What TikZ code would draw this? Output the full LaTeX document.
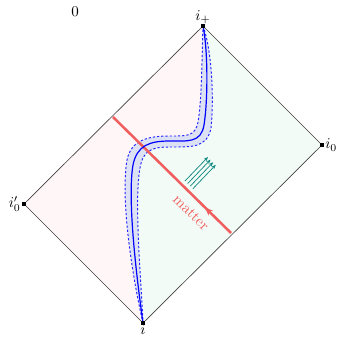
\documentclass[tikz,border=0pt]{standalone}
\usetikzlibrary{arrows.meta,decorations.markings}
\definecolor{pinkbg}{RGB}{255,247,247}
\definecolor{mintbg}{RGB}{243,251,247}
\definecolor{bandfill}{RGB}{220,226,243}
\definecolor{matterred}{RGB}{240,95,95}
\definecolor{rayteal}{RGB}{20,140,130}
\begin{document}
\begin{tikzpicture}[x=0.6667pt,y=-0.6667pt,
  edge/.style={draw=black!75,line width=0.45pt},
  vdot/.style={fill=black,inner sep=0pt,minimum size=2.2pt},
  lbl/.style={inner sep=1pt,font=\normalsize},
  bandedge/.style={draw=blue!85!white,line width=0.65pt,dash pattern=on 1.5pt off 1.3pt},
  worldline/.style={draw=blue,line width=0.8pt},
  matterline/.style={draw=matterred,line width=1.7pt,
    postaction={decorate},
    decoration={markings,mark=at position 0.22 with {\arrow[matterred]{Stealth[length=5.5pt,width=4.5pt]}}}},
  ray/.style={draw=rayteal,line width=0.5pt,-{Stealth[length=3pt,width=2.4pt]}}]
\useasboundingbox (0,0) rectangle (337,338);
\coordinate (top) at (203,26);
\coordinate (rgt) at (322,145);
\coordinate (lft) at (24,204);
\coordinate (bot) at (143,323);
% regions
\fill[pinkbg] (top) -- (lft) -- (bot) .. controls (137,280) and (127,200) .. (133,165)
  .. controls (137,145) and (150,141) .. (170,141)
  .. controls (188,141) and (201,143) .. (204,125)
  .. controls (208,100) and (208,50) .. (top) -- cycle;
\fill[mintbg] (top) -- (rgt) -- (bot) .. controls (137,280) and (127,200) .. (133,165)
  .. controls (137,145) and (150,141) .. (170,141)
  .. controls (188,141) and (201,143) .. (204,125)
  .. controls (208,100) and (208,50) .. (top) -- cycle;
% band
\fill[bandfill] (bot) .. controls (133,280) and (120,200) .. (127,160)
  .. controls (131,140) and (148,136) .. (170,136)
  .. controls (186,136) and (195,137) .. (198,122)
  .. controls (202,100) and (202,50) .. (top)
  .. controls (212,50) and (214,100) .. (211,128)
  .. controls (207,148) and (192,147) .. (170,147)
  .. controls (152,147) and (143,150) .. (140,168)
  .. controls (134,200) and (141,280) .. (bot) -- cycle;
\draw[bandedge] (bot) .. controls (133,280) and (120,200) .. (127,160)
  .. controls (131,140) and (148,136) .. (170,136)
  .. controls (186,136) and (195,137) .. (198,122)
  .. controls (202,100) and (202,50) .. (top);
\draw[bandedge] (top) .. controls (212,50) and (214,100) .. (211,128)
  .. controls (207,148) and (192,147) .. (170,147)
  .. controls (152,147) and (143,150) .. (140,168)
  .. controls (134,200) and (141,280) .. (bot);
% diamond edges
\draw[edge] (top) -- (rgt) -- (bot) -- (lft) -- cycle;
% matter line
\coordinate (m1) at (231,233);
\coordinate (m2) at (113,117);
\draw[matterline] (m1) -- (m2);
\node[text=matterred,rotate=-45,inner sep=0pt] (mlab) at (191,213) {matter};
% world line
\draw[worldline] (bot) .. controls (137,280) and (127,200) .. (133,165)
  .. controls (137,145) and (150,141) .. (170,141)
  .. controls (188,141) and (201,143) .. (204,125)
  .. controls (208,100) and (208,50) .. (top);
% rays
\foreach \k in {0,1,2,3}{
  \coordinate (r\k a) at (185+2.6*\k,181+2.6*\k);
  \coordinate (r\k b) at (208+2.6*\k,157+2.6*\k);
  \draw[ray] (r\k a) -- (r\k b);
}
% vertex dots
\node[vdot] at (top) {};
\node[vdot] at (rgt) {};
\node[vdot] at (lft) {};
\node[vdot] at (bot) {};
% labels
\node[lbl,above=0pt] (ltop) at (top) {$i_+$};
\node[lbl,right=1pt] (lrgt) at (rgt) {$i_0$};
\node[lbl,left=1pt] (llft) at (lft) {$i'_0$};
\node[lbl,below=0pt] (lbot) at (bot) {$i$};
\node[lbl] (zero) at (75,12) {0};
\end{tikzpicture}
\end{document}
